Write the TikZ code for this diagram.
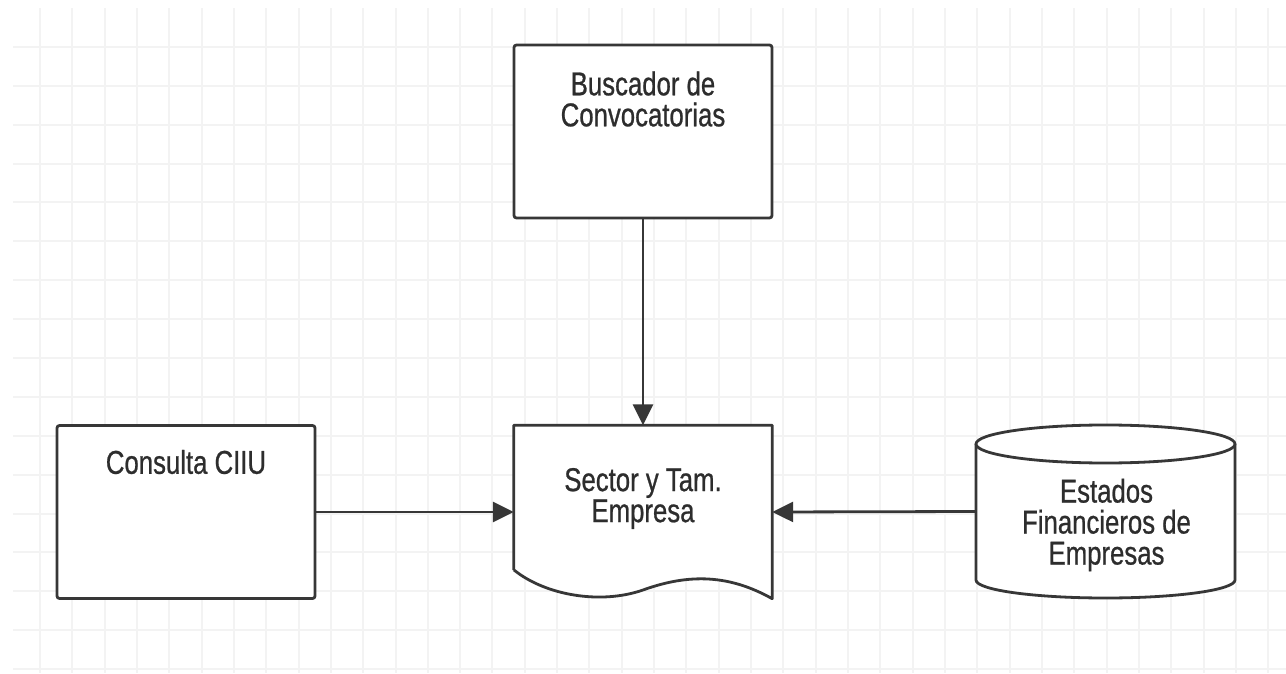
\documentclass[tikz,border=0pt]{standalone}
\usepackage{fontspec}
\setmainfont{Liberation Sans}[FakeStretch=0.78, FakeBold=0.7]
\usepackage{xcolor}
\usetikzlibrary{positioning,calc,arrows.meta}
\definecolor{gridc}{RGB}{243,243,243}
\definecolor{linec}{RGB}{55,55,55}
\definecolor{textc}{RGB}{45,45,45}
\tikzset{
    gridline/.style={gridc, line width=2pt},
    procbox/.style={draw=linec, line width=2.8pt, rounded corners=2.5pt, fill=white, minimum width=258pt, minimum height=173pt, inner sep=0pt},
    shapeline/.style={draw=linec, line width=2.8pt, fill=white, line join=round},
    hidden/.style={minimum width=258pt, minimum height=173pt, inner sep=0pt},
    lbl/.style={text=textc, align=center, inner sep=0pt, font=\fontsize{33}{31}\selectfont},
    flow/.style={linec, line width=2.8pt, -{Triangle[length=21pt,width=20pt]}}
}

\begin{document}
\begin{tikzpicture}[x=1pt, y=1pt]
    \useasboundingbox (0,0) rectangle (1286,673);
    \fill[white] (0,0) rectangle (1286,673);

    % background grid
    \foreach \i in {0,...,38}
        \draw[gridline] ({40+32.32*\i},0) -- ({40+32.32*\i},665);
    \foreach \j in {0,...,16}
        \draw[gridline] (13,{626-38.875*\j}) -- (1286,{626-38.875*\j});

    % process boxes
    \node[procbox] (busc) at (643,541.5) {};
    \node[procbox] (cons) at (186,161) {};

    % document shape
    \node[hidden] (sec) at (643,161) {};
    \draw[shapeline] (sec.south west |- 0,103) -- (sec.north west) -- (sec.north east) -- (sec.south east)
        .. controls (730,98) and (690,100) .. (643,83)
        .. controls (600,68) and (545,78) .. (514,103);

    % data store
    \node[hidden] (est) at (1105.5,161.5) {};
    \draw[shapeline] (976,229) -- (976,93) arc[start angle=180, end angle=360, x radius=129.5pt, y radius=18pt] -- (1235,229);
    \draw[shapeline] (1105.5,229) ellipse [x radius=129.5pt, y radius=19pt];

    % labels
    \node[lbl] (busc-t) at (643,574) {Buscador de\\Convocatorias};
    \node[lbl] (cons-t) at (186,211) {Consulta CIIU};
    \node[lbl] (sec-t) at (643,174.5) {Sector y Tam.\\Empresa};
    \node[lbl] (est-t) at (1106.5,148) {Estados\\Financieros de\\Empresas};

    % connectors
    \draw[flow] (busc.south) -- (sec.north);
    \draw[flow] (cons.east) -- (sec.west);
    \draw[flow] (est.west) -- (sec.east);
\end{tikzpicture}
\end{document}
